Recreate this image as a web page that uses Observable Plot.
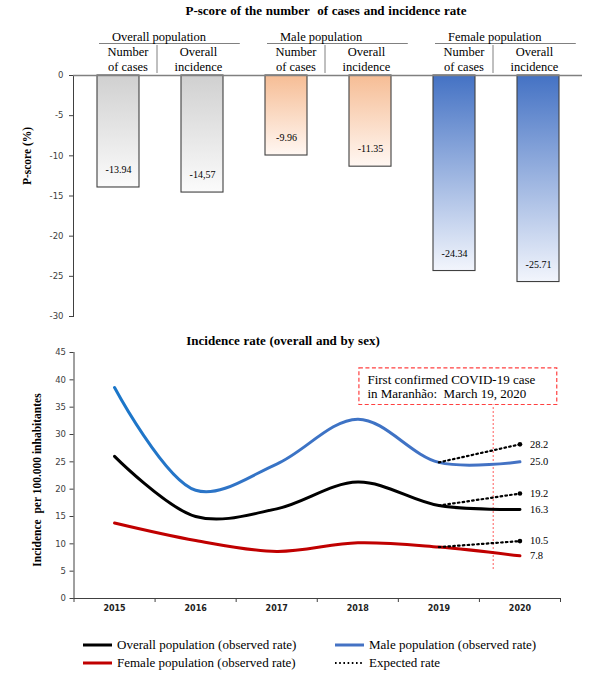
<!DOCTYPE html>
<html>
<head>
<meta charset="utf-8">
<script src="https://cdn.jsdelivr.net/npm/d3@7"></script>
<script src="https://cdn.jsdelivr.net/npm/@observablehq/plot@0.6"></script>
<style>
  body { margin: 0; background: #fff; }
  #wrap { position: relative; width: 604px; height: 677px; overflow: hidden; background: #fff;
          font-family: "Liberation Serif", "Times New Roman", serif; color: #000; }
  #wrap > * { position: absolute; }
  .title { font-weight: bold; font-size: 13px; line-height: 16px; text-align: center; white-space: pre; word-spacing: 0.5px; }
  .ylab { font-weight: bold; font-size: 11.5px; line-height: 16px; height: 16px; text-align: center;
          transform: rotate(-90deg); white-space: pre; }
  .leg { font-size: 13px; line-height: 16px; white-space: nowrap; display: flex; align-items: center; }
  .leg svg { margin-right: 4px; }
</style>
</head>
<body>
<div id="wrap"></div>
<script>
// ---------- data ----------
const groups = ["Overall population", "Male population", "Female population"];
const measures = ["Number\nof cases", "Overall\nincidence"];
const pScores = [-13.94, -14.57, -9.96, -11.35, -24.34, -25.71];
const pScoreLabels = ["-13.94", "-14,57", "-9.96", "-11.35", "-24.34", "-25.71"];
const pTicks = [0, -5, -10, -15, -20, -25, -30];

const years = [2015, 2016, 2017, 2018, 2019, 2020];
const overallRate = [26.0, 15.0, 16.4, 21.3, 17.0, 16.3];
const maleRate = [38.6, 19.8, 24.6, 32.8, 24.9, 25.0];
const femaleRate = [13.8, 10.6, 8.6, 10.2, 9.4, 7.8];

const expectedYears = [2019, 2020];
const overallExpected = [17.0, 19.2];
const maleExpected = [24.9, 28.2];
const femaleExpected = [9.4, 10.5];
const rateTicks = [0, 5, 10, 15, 20, 25, 30, 35, 40, 45];

const covidNote = "First confirmed COVID-19 case\nin Maranhão:  March 19, 2020";
const covidX = 2019.67;
const noteBox = {x1: 2018.02, x2: 2020.46, y1: 35.4, y2: 42.1};

const legendLabels = ["Overall population (observed rate)", "Male population (observed rate)",
                      "Female population (observed rate)", "Expected rate"];

// ---------- styles ----------
const SERIF = '"Liberation Serif","Times New Roman",serif';
const SANS = '"DejaVu Sans",Verdana,sans-serif';
const colors = {overall: "#000000", male: "url(#blueLine)", female: "#c00000"};
const wrap = document.getElementById("wrap");

// ---------- top chart ----------
const keys = groups.flatMap(g => measures.map(m => `${g} | ${m}`));
const barRows = keys.map((k, i) => ({key: k, group: groups[Math.floor(i / 2)], value: pScores[i], label: pScoreLabels[i]}));
const gradIds = ["gGray", "gOrange", "gBlue"];

const topDefs = () => {
  const defs = d3.create("svg:defs");
  [["gGray", "#d0d0d0", "#fbfbfb"], ["gOrange", "#f6bd95", "#fff7f2"], ["gBlue", "#4472c4", "#f2f5fc"]]
    .forEach(([id, c0, c1]) => {
      const lg = defs.append("linearGradient").attr("id", id)
        .attr("x1", 0).attr("y1", 0).attr("x2", 0).attr("y2", 1);
      lg.append("stop").attr("offset", 0).attr("stop-color", c0);
      lg.append("stop").attr("offset", 1).attr("stop-color", c1);
    });
  return defs.node();
};

const header = (index, {x, y}) => {
  const bw = x.bandwidth(), step = x.step(), y0 = y(0);
  const g = d3.create("svg:g").attr("font-family", SERIF).attr("font-size", 12.5).attr("fill", "#000");
  groups.forEach((grp, i) => {
    const k1 = keys[2 * i], k2 = keys[2 * i + 1];
    const left = x(k1) + 2, right = x(k2) + bw + 0.2 * step;
    const sep = (x(k1) + bw + x(k2)) / 2 - 3;
    g.append("line").attr("x1", left).attr("x2", right).attr("y1", y0 - 31.5).attr("y2", y0 - 31.5)
      .attr("stroke", "#808080").attr("stroke-width", 1.2);
    g.append("line").attr("x1", sep).attr("x2", sep).attr("y1", y0 - 30).attr("y2", y0 - 2)
      .attr("stroke", "#808080").attr("stroke-width", 1);
    g.append("text").attr("x", left + 13).attr("y", y0 - 38.5).attr("dy", "0.35em")
      .attr("text-anchor", "start").style("white-space", "pre").text(grp);
    [[(left + sep) / 2, measures[0]], [(sep + right) / 2, measures[1]]].forEach(([cx, label]) => {
      label.split("\n").forEach((line, j) =>
        g.append("text").attr("x", cx).attr("y", y0 - 23.5 + 15 * j).attr("dy", "0.35em")
          .attr("text-anchor", "middle").text(line));
    });
  });
  return g.node();
};

const topPlot = Plot.plot({
  width: 604, height: 330,
  marginTop: 75, marginBottom: 14, marginLeft: 73, marginRight: 22,
  style: {fontFamily: SANS, fontSize: "8.5px", color: "#404040", background: "white", overflow: "visible"},
  x: {domain: keys, paddingInner: 0.5, paddingOuter: 0.25, axis: null},
  y: {domain: [-30, 0], ticks: pTicks, tickFormat: d => String(d), tickSize: 4, tickPadding: 6, line: true, label: null},
  marks: [
    topDefs,
    ...groups.map((g, i) => Plot.barY(barRows.filter(d => d.group === g),
      {x: "key", y: "value", fill: `url(#${gradIds[i]})`, stroke: "#404040", strokeWidth: 1.1})),
    Plot.ruleY([0], {stroke: "#808080", strokeWidth: 1.5}),
    Plot.text(barRows, {x: "key", y: "value", text: "label", dy: -17.5, fontFamily: SERIF, fontSize: 10, fill: "#000"}),
    header
  ]
});
topPlot.style.left = "0px"; topPlot.style.top = "0px";
wrap.appendChild(topPlot);

// ---------- bottom chart ----------
const toRows = (xs, vs, s) => xs.map((yr, i) => ({year: yr, value: vs[i], series: s}));
const observed = {
  overall: toRows(years, overallRate, "overall"),
  male: toRows(years, maleRate, "male"),
  female: toRows(years, femaleRate, "female")
};
const expected = [
  ...toRows(expectedYears, overallExpected, "overall"),
  ...toRows(expectedYears, maleExpected, "male"),
  ...toRows(expectedYears, femaleExpected, "female")
];
const lastYear = years[years.length - 1];
const endRows = [
  ...Object.values(observed).map(r => r[r.length - 1]),
  ...expected.filter(d => d.year === lastYear)
];
const xEdges = [...years.map(y => y - 0.5), lastYear + 0.5];

const bottomDefs = () => {
  const defs = d3.create("svg:defs");
  const lg = defs.append("linearGradient").attr("id", "blueLine")
    .attr("x1", 0).attr("y1", 0).attr("x2", 1).attr("y2", 0);
  lg.append("stop").attr("offset", 0).attr("stop-color", "#1a76c9");
  lg.append("stop").attr("offset", 0.45).attr("stop-color", "#3c73c5");
  lg.append("stop").attr("offset", 1).attr("stop-color", "#4472c4");
  return defs.node();
};

const bottomPlot = Plot.plot({
  width: 604, height: 300,
  marginTop: 22, marginBottom: 32, marginLeft: 73.5, marginRight: 44,
  style: {fontFamily: SANS, fontSize: "8.5px", color: "#404040", background: "white", overflow: "visible"},
  x: {domain: [years[0] - 0.5, lastYear + 0.5], ticks: xEdges, tickFormat: () => "", tickSize: 4, line: true, label: null},
  y: {domain: [0, 45], ticks: rateTicks, tickSize: 4, tickPadding: 4, line: true, label: null},
  marks: [
    bottomDefs,
    Plot.rect([noteBox], {x1: "x1", x2: "x2", y1: "y1", y2: "y2", fill: "white",
      stroke: "#ff4040", strokeWidth: 1.2, strokeDasharray: "4,2.5"}),
    Plot.text([covidNote], {x: noteBox.x1, y: (noteBox.y1 + noteBox.y2) / 2, dx: 8, text: d => d,
      textAnchor: "start", lineHeight: 1.1, fontFamily: SERIF, fontSize: 13, fill: "#000"}),
    Plot.ruleX([covidX], {y1: 5.3, y2: noteBox.y1, stroke: "#ff5a5a", strokeWidth: 1, strokeDasharray: "2,2"}),
    ...["female", "overall", "male"].map(s => Plot.line(observed[s],
      {x: "year", y: "value", stroke: colors[s], strokeWidth: 3, curve: "catmull-rom"})),
    ...["overall", "male", "female"].map(s => Plot.line(expected.filter(d => d.series === s),
      {x: "year", y: "value", stroke: "#000", strokeWidth: 2.2, strokeDasharray: "1.6,3.2"})),
    Plot.dot(expected.filter(d => d.year === lastYear), {x: "year", y: "value", r: 2.3, fill: "#000"}),
    Plot.text(endRows, {x: "year", y: "value", text: d => d.value.toFixed(1), dx: 10, textAnchor: "start",
      fontFamily: SERIF, fontSize: 10.5, fill: "#000"}),
    Plot.text(years, {x: d => d, frameAnchor: "bottom", dy: 12, text: d => String(d),
      fontFamily: SANS, fontSize: 8, fontWeight: "bold", fill: "#222"})
  ]
});
bottomPlot.style.left = "0px"; bottomPlot.style.top = "330px";
wrap.appendChild(bottomPlot);

// ---------- titles & axis labels ----------
function addDiv(cls, text, css) {
  const d = document.createElement("div");
  d.className = cls; d.textContent = text;
  Object.assign(d.style, css);
  wrap.appendChild(d);
}
addDiv("title", "P-score of the number  of cases and incidence rate", {left: "76px", width: "500px", top: "3px"});
addDiv("title", "Incidence rate (overall and by sex)", {left: "33px", width: "500px", top: "333px"});
addDiv("ylab", "P-score (%)", {left: "-33px", width: "120px", top: "148px"});
addDiv("ylab", "Incidence  per 100.000 inhabitantes", {left: "-88px", width: "250px", top: "472px"});

// ---------- legend ----------
const legendStyles = [
  {stroke: "#000000", width: 3, dash: null},
  {stroke: "#4472c4", width: 3, dash: null},
  {stroke: "#c00000", width: 3, dash: null},
  {stroke: "#000000", width: 2, dash: "1.6,2.6"}
];
const legendPos = [[83, 645], [335, 645], [83, 663], [335, 663]];
legendLabels.forEach((label, i) => {
  const item = document.createElement("div");
  item.className = "leg";
  item.style.left = legendPos[i][0] + "px";
  item.style.top = (legendPos[i][1] - 8) + "px";
  const st = legendStyles[i];
  const sw = d3.create("svg").attr("width", 30).attr("height", 8);
  sw.append("line").attr("x1", 0).attr("x2", 29).attr("y1", 4).attr("y2", 4)
    .attr("stroke", st.stroke).attr("stroke-width", st.width).attr("stroke-dasharray", st.dash);
  item.appendChild(sw.node());
  const t = document.createElement("span");
  t.textContent = label;
  item.appendChild(t);
  wrap.appendChild(item);
});
</script>
</body>
</html>
